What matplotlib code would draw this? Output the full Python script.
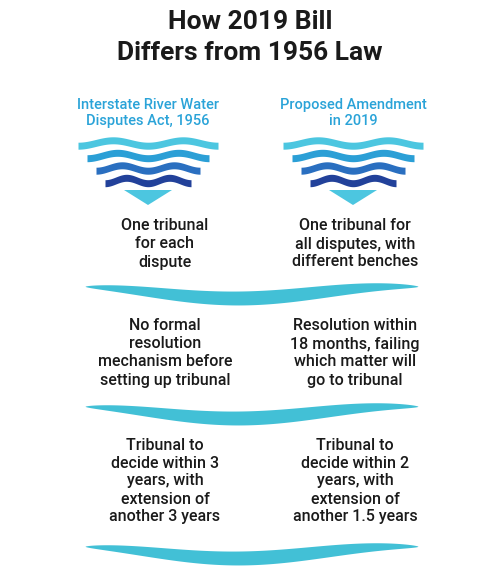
import numpy as np
import matplotlib
matplotlib.use("Agg")
import matplotlib.pyplot as plt

title_lines = ["How 2019 Bill", "Differs from 1956 Law"]
headers = ["Interstate River Water\nDisputes Act, 1956", "Proposed Amendment\nin 2019"]
left_rows = ["One tribunal\nfor each\ndispute",
             "No formal\nresolution\nmechanism before\nsetting up tribunal",
             "Tribunal to\ndecide within 3\nyears, with\nextension of\nanother 3 years"]
right_rows = ["One tribunal for\nall disputes, with\ndifferent benches",
              "Resolution within\n18 months, failing\nwhich matter will\ngo to tribunal",
              "Tribunal to\ndecide within 2\nyears, with\nextension of\nanother 1.5 years"]
row_y = [244, 353, 481]
sep_y = [290, 410, 550]
icon_colors = ["#4cc6e0", "#2b9fd6", "#2a6fc0", "#22419a"]

fig = plt.figure(figsize=(5.01, 5.80), dpi=100)
ax = fig.add_axes([0, 0, 1, 1])
ax.set_xlim(0, 501); ax.set_ylim(580, 0); ax.axis("off")
fam = ["DejaVu Sans Condensed", "Roboto", "DejaVu Sans"]

for i, t in enumerate(title_lines):
    ax.text(250, 22 + 31 * i, t, ha="center", va="center", fontsize=19,
            fontweight="bold", color="#1a1a1a", family=fam)

cols = [148, 353]
for cx, h in zip(cols, headers):
    ax.text(cx, 113, h, ha="center", va="center", fontsize=10.5, color="#2aa3d8",
            family=fam, fontweight="medium", linespacing=1.15)
    for k, c in enumerate(icon_colors):
        hw = 70 - 9 * k
        x = np.linspace(cx - hw, cx + hw, 200)
        yc = 143 + 12.5 * k + 3 * np.cos((x - cx) / hw * 2 * np.pi) * 0.9
        ax.fill_between(x, yc - 3.5, yc + 3.5, color=c, lw=0)
    ax.fill([cx - 24, cx + 24, cx], [190, 190, 205], color="#4cc6e0", lw=0)

for cx, rows in zip([165, 355], [left_rows, right_rows]):
    for y, r in zip(row_y, rows):
        ax.text(cx, y, r, ha="center", va="center", fontsize=11.5, color="#1a1a1a",
                family=fam, fontweight="medium", linespacing=1.25)

for y0 in sep_y:
    x = np.linspace(85, 418, 400)
    t = (x - 85) / 333
    yc = y0 - 6 * np.cos(t * 2 * np.pi + 0.3) + 2
    th = 7 * np.sin(np.pi * t) ** 0.6
    ax.fill_between(x, yc - th, yc + th, color="#42c0d6", lw=0)

fig.savefig("out.png", dpi=100, facecolor="white")
